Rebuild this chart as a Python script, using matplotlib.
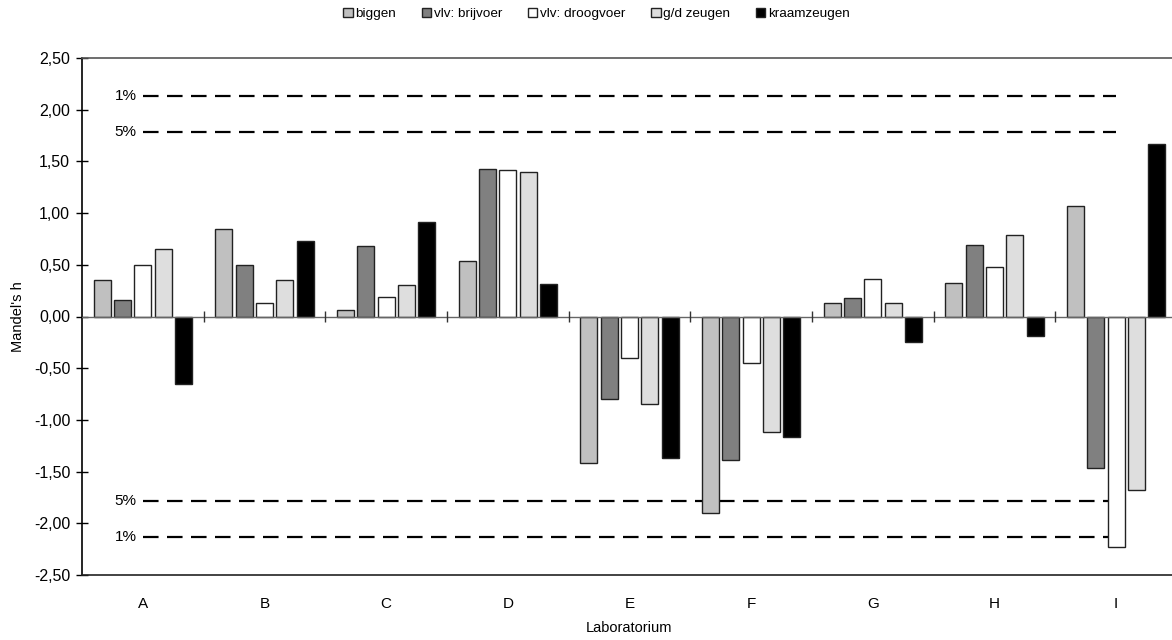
import matplotlib
matplotlib.use("Agg")
import matplotlib.pyplot as plt
import numpy as np
from matplotlib.patches import Patch

plt.rcParams['font.family'] = ['Liberation Sans', 'DejaVu Sans']

labs = ["A", "B", "C", "D", "E", "F", "G", "H", "I"]
series_names = ["biggen", "vlv: brijvoer", "vlv: droogvoer", "g/d zeugen", "kraamzeugen"]
biggen = [0.35, 0.85, 0.06, 0.54, -1.42, -1.90, 0.13, 0.32, 1.07]
brijvoer = [0.16, 0.50, 0.68, 1.43, -0.80, -1.39, 0.18, 0.69, -1.47]
droogvoer = [0.50, 0.13, 0.19, 1.42, -0.40, -0.45, 0.36, 0.48, -2.23]
gd_zeugen = [0.65, 0.35, 0.30, 1.40, -0.85, -1.12, 0.13, 0.79, -1.68]
kraamzeugen = [-0.65, 0.73, 0.91, 0.31, -1.37, -1.17, -0.25, -0.19, 1.67]
h_crit = {"1%": 2.13, "5%": 1.78}
yticks = [-2.5, -2.0, -1.5, -1.0, -0.5, 0.0, 0.5, 1.0, 1.5, 2.0, 2.5]
ytick_labels = ["-2,50", "-2,00", "-1,50", "-1,00", "-0,50", "0,00", "0,50", "1,00", "1,50", "2,00", "2,50"]

series = [biggen, brijvoer, droogvoer, gd_zeugen, kraamzeugen]
fills = ["#c0c0c0", "#808080", "#ffffff", "#dedede", "#000000"]

fig = plt.figure(figsize=(11.72, 6.4), dpi=100)
ax = fig.add_axes([82/1172, 1-575/640, (1177-82)/1172, (575-58)/640])

n = len(labs)
centers = np.arange(n) + 0.5
pitch = 1/6
for j, (vals, fc) in enumerate(zip(series, fills)):
    ax.bar(centers + (j-2)*pitch, vals, width=0.14, color=fc,
           edgecolor="#222222", linewidth=1.0, zorder=3)

# zero line with category boundary ticks
ax.axhline(0, color="#666666", lw=1.0, zorder=4)
ax.vlines(np.arange(1, n), -0.05, 0.055, color="#333333", lw=1.0, zorder=4)

# critical lines
for lab, v in h_crit.items():
    for s in (1, -1):
        ax.plot([centers[0], centers[-1]], [s*v, s*v], color="black", lw=1.6,
                dashes=(7, 3.8), zorder=2)
        ax.text(centers[0]-0.05, s*v, lab, ha="right", va="center", fontsize=11)

ax.set_xlim(0, n)
ax.set_ylim(-2.5, 2.5)
ax.set_yticks(yticks)
ax.set_yticklabels(ytick_labels, fontsize=11.5)
ax.set_xticks(centers)
ax.set_xticklabels(labs, fontsize=11)
ax.tick_params(axis='x', length=0, pad=16)
ax.tick_params(axis='y', direction='inout', length=8, width=1.0, pad=4.5)
ax.spines['right'].set_visible(False)
ax.spines['top'].set_color("#555555")
ax.spines['left'].set_color("black")
ax.spines['bottom'].set_color("#222222")
for s in ax.spines.values():
    s.set_linewidth(1.2)

ax.set_ylabel("Mandel's h", fontsize=10.5, labelpad=6)
ax.set_xlabel("Laboratorium", fontsize=10.5, labelpad=7)

handles = [Patch(facecolor=fc, edgecolor="#222222", linewidth=1.0, label=nm)
           for fc, nm in zip(fills, series_names)]
fig.legend(handles=handles, loc="center", bbox_to_anchor=(0.509, 1-14/640), ncol=5,
           frameon=False, fontsize=9.7, handlelength=0.7, handleheight=0.7,
           handletextpad=0.2, columnspacing=1.9)

fig.savefig("out.png", dpi=100)
